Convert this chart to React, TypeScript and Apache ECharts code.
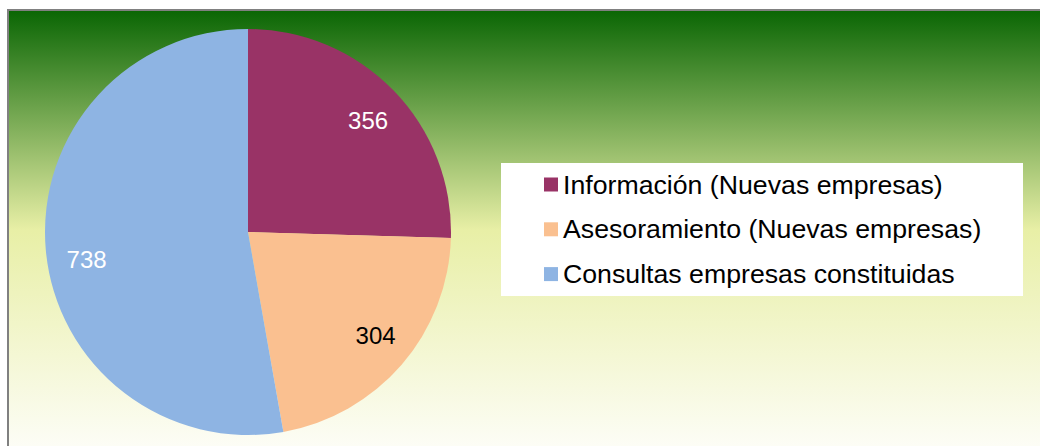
import React, { useEffect, useRef } from "react";
import * as echarts from "echarts";

const categories = [
  "Información (Nuevas empresas)",
  "Asesoramiento (Nuevas empresas)",
  "Consultas empresas constituidas",
];
const values = [356, 304, 738];
const sliceColors = ["#993366", "#FAC090", "#8EB4E3"];
const labelColors = ["#FFFFFF", "#000000", "#FFFFFF"];
const labelOffsets = [
  [1, 4],
  [2, -5],
  [4, 13],
];

export default function App() {
  const ref = useRef<HTMLDivElement>(null);
  useEffect(() => {
    if (!ref.current) return;
    const chart = echarts.init(ref.current, undefined, { renderer: "svg" });
    const data = categories.map((name, i) => ({
      name,
      value: values[i],
      itemStyle: { color: sliceColors[i] },
    }));
    const labelData = categories.map((name, i) => ({
      name,
      value: values[i],
      itemStyle: { color: "rgba(0,0,0,0)" },
      label: { color: labelColors[i], offset: labelOffsets[i] },
    }));
    chart.setOption({
      animation: false,
      graphic: [
        {
          type: "rect",
          z: -10,
          shape: { x: 8, y: 10, width: 1040, height: 440 },
          style: {
            fill: new echarts.graphic.LinearGradient(0, 0, 0, 1, [
              { offset: 0, color: "#0A6604" },
              { offset: 0.5, color: "#E8EFA6" },
              { offset: 1, color: "#FDFDF7" },
            ]),
            stroke: "#808080",
            lineWidth: 2,
          },
        },
        {
          type: "rect",
          z: -5,
          shape: { x: 501, y: 163, width: 522, height: 133 },
          style: { fill: "#FFFFFF" },
        },
      ],
      legend: {
        orient: "vertical",
        left: 544,
        top: 171,
        padding: 0,
        itemWidth: 14,
        itemHeight: 14,
        itemGap: 17.8,
        icon: "rect",
        data: categories,
        textStyle: {
          fontFamily: "Liberation Sans, Arial, sans-serif",
          fontSize: 26.7,
          color: "#000000",
        },
      },
      series: [
        {
          type: "pie",
          center: [248, 232],
          radius: 203,
          startAngle: 90,
          clockwise: true,
          label: { show: false },
          labelLine: { show: false },
          itemStyle: { borderWidth: 0 },
          data,
        },
        {
          type: "pie",
          center: [248, 232],
          radius: [123, 203],
          startAngle: 90,
          clockwise: true,
          silent: true,
          legendHoverLink: false,
          label: {
            show: true,
            position: "inside",
            formatter: "{c}",
            fontFamily: "Liberation Sans, Arial, sans-serif",
            fontSize: 24,
          },
          labelLine: { show: false },
          itemStyle: { borderWidth: 0 },
          data: labelData,
        },
      ],
    });
    return () => chart.dispose();
  }, []);
  return (
    <div
      ref={ref}
      style={{ position: "absolute", left: 0, top: 0, width: 1040, height: 446 }}
    />
  );
}
